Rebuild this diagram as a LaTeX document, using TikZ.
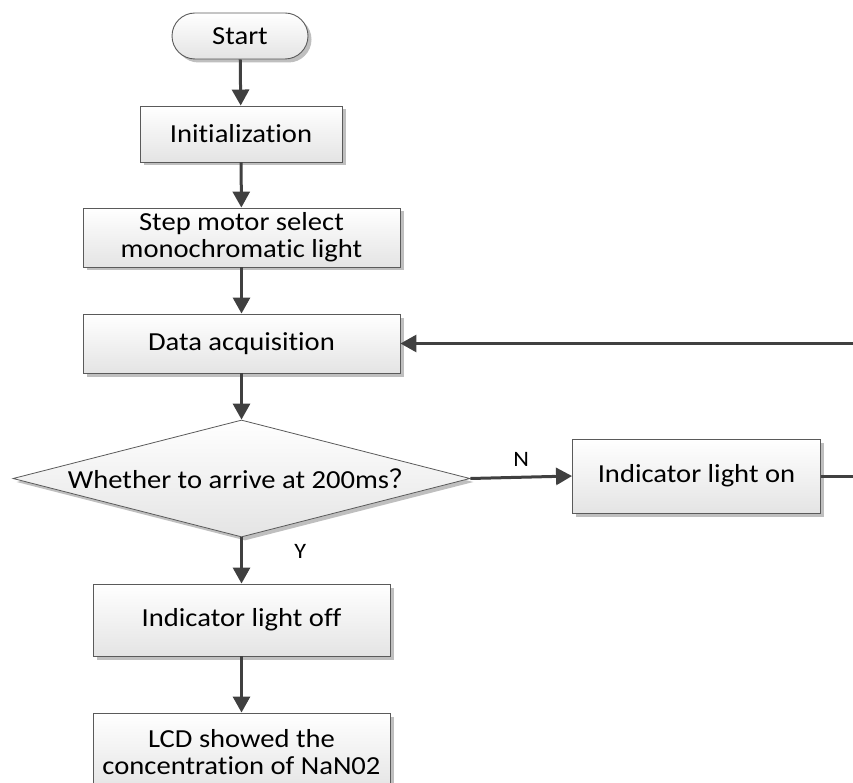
\documentclass[tikz,border=0pt]{standalone}
\usepackage{fontspec}
\setmainfont{Carlito}[FakeStretch=1.1, RawFeature=-liga]
\newfontfamily\cjk{Noto Sans CJK SC}
\usetikzlibrary{shapes.geometric,arrows.meta,shadows}
\definecolor{linec}{HTML}{404040}
\definecolor{edgec}{HTML}{5A5A5A}
\definecolor{boxbot}{HTML}{E4E4E4}
\tikzset{
  x=1pt,y=-1pt,
  every node/.style={font=\fontsize{26}{27}\selectfont, text=black},
  flowbox/.style={rectangle, draw=edgec, line width=0.9pt, top color=white, bottom color=boxbot,
    drop shadow={shadow xshift=3.5pt, shadow yshift=-3.5pt, fill=black!25, opacity=1},
    inner sep=0pt, align=center},
  termbox/.style={flowbox, rounded corners=23pt},
  decbox/.style={diamond, draw=edgec, line width=0.8pt, top color=white, bottom color=boxbot,
    drop shadow={shadow xshift=3.5pt, shadow yshift=-3.5pt, fill=black!25, opacity=1},
    inner sep=0pt, aspect=3.9},
  flow/.style={draw=linec, line width=3pt, -{Triangle[length=16pt,width=17pt]}},
  plain/.style={draw=linec, line width=3pt},
  lbl/.style={font=\fontsize{22}{24}\selectfont}
}
\begin{document}
\begin{tikzpicture}
\useasboundingbox (0,0) rectangle (853,783);
\node[termbox, minimum width=136pt, minimum height=46pt] (start) at (240,36) {Start};
\node[flowbox, minimum width=202pt, minimum height=56pt] (init) at (241,134) {Initialization};
\node[flowbox, minimum width=317pt, minimum height=59pt] (step) at (241.5,237.5) {Step motor select\\monochromatic light};
\node[flowbox, minimum width=317pt, minimum height=59pt] (data) at (241.5,343.5) {Data acquisition};
\node[decbox, minimum width=457pt, minimum height=117pt] (dec) at (241.5,478.5) {Whether to arrive at 200ms{\cjk ？}};
\node[flowbox, minimum width=248pt, minimum height=74pt] (on) at (696.5,476) {Indicator light on};
\node[flowbox, minimum width=297pt, minimum height=72pt] (off) at (241.5,620) {Indicator light off};
\node[flowbox, minimum width=297pt, minimum height=78pt] (lcd) at (241.5,752) {LCD showed the\\concentration of NaN02};
\coordinate (fbtop) at (860,343.5);
\coordinate (fbbot) at (860,476);

\draw[flow] (start) -- (init);
\draw[flow] (init) -- (step);
\draw[flow] (step) -- (data);
\draw[flow] (data) -- (dec);
\draw[flow] (dec.east) -- (on.west) node[lbl, midway, above=6pt] {N};
\draw[flow] (dec.south) -- (off.north) node[lbl, pos=0.3, right=48pt] {Y};
\draw[flow] (off) -- (lcd);
\draw[plain] (on.east) -- (fbbot);
\draw[flow] (fbtop) -- (data.east);
\end{tikzpicture}
\end{document}
